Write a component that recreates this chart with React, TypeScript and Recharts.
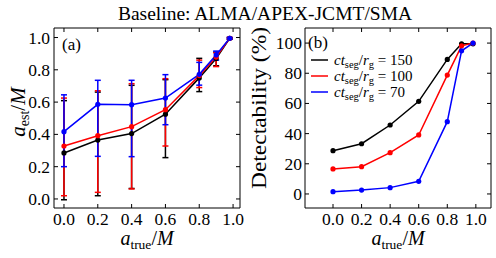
import React from 'react';
import { LineChart, Line, XAxis, YAxis, ErrorBar } from 'recharts';

const FONT = "'Liberation Serif', 'DejaVu Serif', serif";
const fontStyle = { fontFamily: FONT };

// Shared x values (a_true / M)
const aTrue = [0, 0.2, 0.4, 0.6, 0.8, 0.9, 0.98];
const xTicks = [0, 0.2, 0.4, 0.6, 0.8, 1.0];
const estTicks = [0, 0.2, 0.4, 0.6, 0.8, 1.0];
const detTicks = [0, 20, 40, 60, 80, 100];

// Series labels (ct_seg / r_g) and colours
const segValues = ['150', '100', '70'];
const colors = ['#000000', '#ff0000', '#0000ff'];

// Panel (a): estimated spin with error bars
const est150 = [0.285, 0.365, 0.405, 0.525, 0.75, 0.87, 0.995];
const est150Low = [-0.005, 0.02, 0.065, 0.256, 0.665, 0.825, 0.99];
const est150High = [0.609, 0.662, 0.704, 0.739, 0.871, 0.91, 1.0];

const est100 = [0.328, 0.392, 0.448, 0.553, 0.764, 0.879, 0.995];
const est100Low = [0.02, 0.041, 0.062, 0.328, 0.69, 0.82, 0.99];
const est100High = [0.625, 0.67, 0.714, 0.745, 0.86, 0.905, 1.0];

const est70 = [0.417, 0.586, 0.584, 0.625, 0.772, 0.892, 0.995];
const est70Low = [0.2, 0.264, 0.262, 0.46, 0.705, 0.86, 0.99];
const est70High = [0.645, 0.735, 0.735, 0.77, 0.846, 0.916, 1.0];

// Panel (b): detectability (%)
const det150 = [28.7, 33.3, 45.7, 61.4, 89.2, 99.5, 99.5];
const det100 = [16.6, 18.1, 27.4, 39.1, 78.8, 98.2, 100];
const det70 = [1.5, 2.6, 4.2, 8.4, 47.9, 94.9, 100];

const estSeries = [
  { v: est150, lo: est150Low, hi: est150High },
  { v: est100, lo: est100Low, hi: est100High },
  { v: est70, lo: est70Low, hi: est70High },
];
const detSeries = [det150, det100, det70];

const estData = aTrue.map((x, i) => {
  const row: any = { x };
  estSeries.forEach((s, k) => {
    row['s' + k] = s.v[i];
    row['err' + k] = [s.v[i] - s.lo[i], s.hi[i] - s.v[i]];
  });
  return row;
});

const detData = aTrue.map((x, i) => {
  const row: any = { x };
  detSeries.forEach((s, k) => {
    row['s' + k] = s[i];
  });
  return row;
});

const TICK_FS = 17.5;
const TL = 4;

const BottomTick = (props: any) => {
  const { x, y, payload } = props;
  return (
    <g>
      <line x1={x} x2={x} y1={y} y2={y - TL} stroke="#000" strokeWidth={1} />
      <text x={x} y={y + 17} textAnchor="middle" style={fontStyle} fontSize={TICK_FS} fill="#000">
        {Number(payload.value).toFixed(1)}
      </text>
    </g>
  );
};

const TopTick = (props: any) => {
  const { x, y } = props;
  return <line x1={x} x2={x} y1={y} y2={y + TL} stroke="#000" strokeWidth={1} />;
};

const makeLeftTick = (fmt: (v: number) => string, gap: number) => (props: any) => {
  const { x, y, payload } = props;
  return (
    <g>
      <line x1={x} x2={x + TL} y1={y} y2={y} stroke="#000" strokeWidth={1} />
      <text x={x - gap} y={y + 6} textAnchor="end" style={fontStyle} fontSize={TICK_FS} fill="#000">
        {fmt(Number(payload.value))}
      </text>
    </g>
  );
};

const RightTick = (props: any) => {
  const { x, y } = props;
  return <line x1={x} x2={x - TL} y1={y} y2={y} stroke="#000" strokeWidth={1} />;
};

const EstLeftTick = makeLeftTick((v) => v.toFixed(1), 4);
const DetLeftTick = makeLeftTick((v) => String(Math.round(v)), 3);

const axisCommon = {
  type: 'number' as const,
  allowDataOverflow: true,
  tickLine: false,
  tickSize: 0,
  tickMargin: 0,
  axisLine: { stroke: '#000', strokeWidth: 1 },
  interval: 0 as const,
};

const BOT_H = 20;
const TOP_H = 1;
const LEFT_W = 20;
const RIGHT_W = 1;

function Frame({ data, xDomain, yDomain, yTicks, LeftTick, plot, withErrors }: any) {
  const margin = {
    top: plot.top - TOP_H,
    left: plot.left - LEFT_W,
    right: 248 - plot.right - RIGHT_W,
    bottom: 258 - plot.bottom - BOT_H,
  };
  return (
    <LineChart width={248} height={258} data={data} margin={margin}>
      <XAxis {...axisCommon} xAxisId="b" dataKey="x" orientation="bottom" height={BOT_H} domain={xDomain} ticks={xTicks} tick={<BottomTick />} />
      <XAxis {...axisCommon} xAxisId="t" dataKey="x" orientation="top" height={TOP_H} domain={xDomain} ticks={xTicks} tick={<TopTick />} />
      <YAxis {...axisCommon} yAxisId="l" orientation="left" width={LEFT_W} domain={yDomain} ticks={yTicks} tick={<LeftTick />} />
      <YAxis {...axisCommon} yAxisId="r" orientation="right" width={RIGHT_W} domain={yDomain} ticks={yTicks} tick={<RightTick />} />
      {colors.map((c, k) => (
        <Line
          key={k}
          xAxisId="b"
          yAxisId="l"
          dataKey={'s' + k}
          stroke={c}
          strokeWidth={1.5}
          isAnimationActive={false}
          dot={{ r: 2.6, fill: c, stroke: c, strokeWidth: 0 }}
          activeDot={false}
        >
          {withErrors ? (
            <ErrorBar dataKey={'err' + k} direction="y" width={3} stroke={c} strokeWidth={1.5} />
          ) : null}
        </Line>
      ))}
    </LineChart>
  );
}

export default function App() {
  return (
    <div style={{ position: 'absolute', left: 0, top: 0, width: 496, height: 258, background: '#fff', fontFamily: FONT }}>
      <div style={{ position: 'absolute', left: 0, top: 0 }}>
        <Frame
          data={estData}
          xDomain={[-0.059, 1.041]}
          yDomain={[-0.056, 1.059]}
          yTicks={estTicks}
          LeftTick={EstLeftTick}
          plot={{ left: 54, top: 28, right: 240, bottom: 208 }}
          withErrors
        />
      </div>
      <div style={{ position: 'absolute', left: 248, top: 0 }}>
        <Frame
          data={detData}
          xDomain={[-0.196, 1.106]}
          yDomain={[-9.3, 110]}
          yTicks={detTicks}
          LeftTick={DetLeftTick}
          plot={{ left: 57, top: 28, right: 243, bottom: 208 }}
          withErrors={false}
        />
      </div>
      <svg
        width={496}
        height={258}
        style={{ position: 'absolute', left: 0, top: 0, pointerEvents: 'none', fontFamily: FONT }}
        fill="#000"
      >
        <text x={265} y={20} textAnchor="middle" fontSize={19.5}>
          Baseline: ALMA/APEX-JCMT/SMA
        </text>
        <text x={62} y={50} fontSize={17}>(a)</text>
        <text x={308} y={48} fontSize={17}>(b)</text>

        {[147, 398].map((cx) => (
          <text key={cx} x={cx} y={245} textAnchor="middle" fontSize={20}>
            <tspan fontStyle="italic">a</tspan>
            <tspan fontSize={13.5} dy={4}>true</tspan>
            <tspan dy={-4}>/</tspan>
            <tspan fontStyle="italic">M</tspan>
          </text>
        ))}

        <text x={25} y={112} textAnchor="middle" fontSize={21} transform="rotate(-90 25 112)">
          <tspan fontStyle="italic">a</tspan>
          <tspan fontSize={14} dy={4}>est</tspan>
          <tspan dy={-4}>/</tspan>
          <tspan fontStyle="italic">M</tspan>
        </text>

        <text
          x={266}
          y={108}
          textAnchor="middle"
          fontSize={21}
          transform="rotate(-90 266 108)"
          textLength={162}
          lengthAdjust="spacingAndGlyphs"
        >
          Detectability (%)
        </text>

        {segValues.map((v, k) => {
          const cy = 60 + k * 16;
          return (
            <g key={v}>
              <line x1={311} x2={328} y1={cy} y2={cy} stroke={colors[k]} strokeWidth={1.5} />
              <text x={334} y={cy + 5} fontSize={15}>
                <tspan fontStyle="italic">ct</tspan>
                <tspan fontSize={10.5} dy={3}>seg</tspan>
                <tspan dy={-3}>/</tspan>
                <tspan fontStyle="italic">r</tspan>
                <tspan fontSize={10.5} dy={3}>g</tspan>
                <tspan dy={-3}>{' = ' + v}</tspan>
              </text>
            </g>
          );
        })}
      </svg>
    </div>
  );
}
